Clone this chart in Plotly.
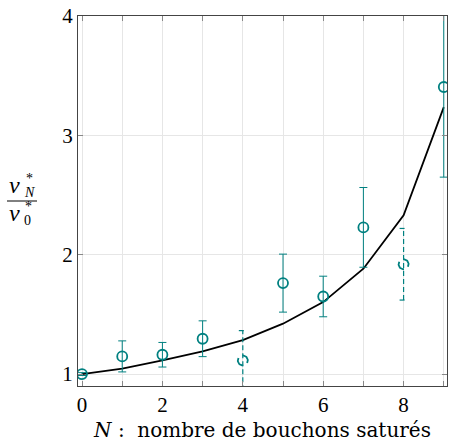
import numpy as np
import plotly.graph_objects as go

N = list(range(10))
ratio_meas = [1.0, 1.148, 1.162, 1.296, 1.114, 1.762, 1.65, 2.229, 1.92, 3.405]
ratio_err = [0.012, 0.13, 0.103, 0.15, 0.25, 0.243, 0.17, 0.334, 0.30, 0.755]
ratio_model = [1.0, 1.045, 1.114, 1.19, 1.285, 1.422, 1.603, 1.883, 2.33, 3.237]
uncertain = [4, 8]
x_ticks = list(range(10))
x_ticklabels = ["0", "", "2", "", "4", "", "6", "", "8", ""]
y_ticks = [1, 2, 3, 4]

TEAL = "#008080"
FONT = "Liberation Serif, DejaVu Serif, serif"
TFONT = "DejaVu Serif, serif"
W, H = 449, 444
ML, MR, MT, MB = 78, 2, 16, 58
XR = [-0.1, 9.08]
YR = [0.9, 4.0]
pw = W - ML - MR
ph = H - MT - MB

fig = go.Figure()

# model line
fig.add_trace(go.Scatter(x=N, y=ratio_model, mode="lines",
                         line=dict(color="black", width=1.8), showlegend=False))

# solid measured points
idx = [i for i in N if i not in uncertain]
fig.add_trace(go.Scatter(
    x=[N[i] for i in idx], y=[ratio_meas[i] for i in idx], mode="markers",
    marker=dict(symbol="circle-open", size=10, color=TEAL, line=dict(width=1.8, color=TEAL)),
    error_y=dict(type="data", array=[ratio_err[i] for i in idx], color=TEAL, thickness=1, width=4),
    showlegend=False))

# dashed (uncertain) points
dx_unit = (XR[1] - XR[0]) / pw
dy_unit = (YR[1] - YR[0]) / ph
cap = 4 * dx_unit
for i in uncertain:
    x0, y0, e = N[i], ratio_meas[i], ratio_err[i]
    xs = [x0, x0, None, x0 - cap, x0 + cap, None, x0 - cap, x0 + cap]
    ys = [y0 - e, y0 + e, None, y0 + e, y0 + e, None, y0 - e, y0 - e]
    fig.add_trace(go.Scatter(x=xs, y=ys, mode="lines",
                             line=dict(color=TEAL, width=1.2, dash="5px,3px"),
                             showlegend=False))
    # dashed circle marker, drawn as two arcs
    r = 5
    for a0, a1 in [(-30, 95), (150, 275)]:
        t = np.radians(np.linspace(a0, a1, 20))
        fig.add_trace(go.Scatter(x=x0 + r * dx_unit * np.cos(t),
                                 y=y0 + r * dy_unit * np.sin(t), mode="lines",
                                 line=dict(color=TEAL, width=1.8), showlegend=False))

axis_common = dict(showline=True, linecolor="#444", linewidth=1, mirror="ticks",
                   ticks="inside", ticklen=5, tickcolor="#888", tickwidth=1,
                   showgrid=True, gridcolor="#e6e6e6", gridwidth=1, zeroline=False,
                   tickfont=dict(family=FONT, size=21, color="black"))

fig.update_xaxes(range=XR, tickvals=x_ticks, ticktext=x_ticklabels,
                 title=dict(text="<i>N</i>&nbsp;:&nbsp; nombre de bouchons saturés",
                            font=dict(family=TFONT, size=20, color="black"), standoff=6),
                 **axis_common)
fig.update_yaxes(range=YR, tickvals=y_ticks, ticktext=[str(v) for v in y_ticks],
                 **axis_common)

def px(xp):
    return (xp - ML) / pw

def py(yp):
    return 1 - (yp - MT) / ph

ann = []
def add(text, x, y, size):
    ann.append(dict(text=text, x=px(x), y=py(y), xref="paper", yref="paper",
                    showarrow=False, xanchor="center", yanchor="middle",
                    font=dict(family=FONT, size=size, color="black")))

add("<i>v</i>", 14, 185, 24)
add("*", 30, 179, 14)
add("<i>N</i>", 30, 192, 14)
add("<i>v</i>", 15, 213, 24)
add("*", 28, 207, 14)
add("0", 27, 220, 14)
fig.update_layout(annotations=ann)
fig.add_shape(type="line", xref="paper", yref="paper", x0=px(7), x1=px(37),
              y0=py(201), y1=py(201), line=dict(color="black", width=1))

fig.update_layout(width=W, height=H, margin=dict(l=ML, r=MR, t=MT, b=MB),
                  plot_bgcolor="white", paper_bgcolor="white")
fig.write_html("out.html", config={"displayModeBar": False},
               post_script="document.body.style.margin='0';document.body.style.overflow='hidden';")
